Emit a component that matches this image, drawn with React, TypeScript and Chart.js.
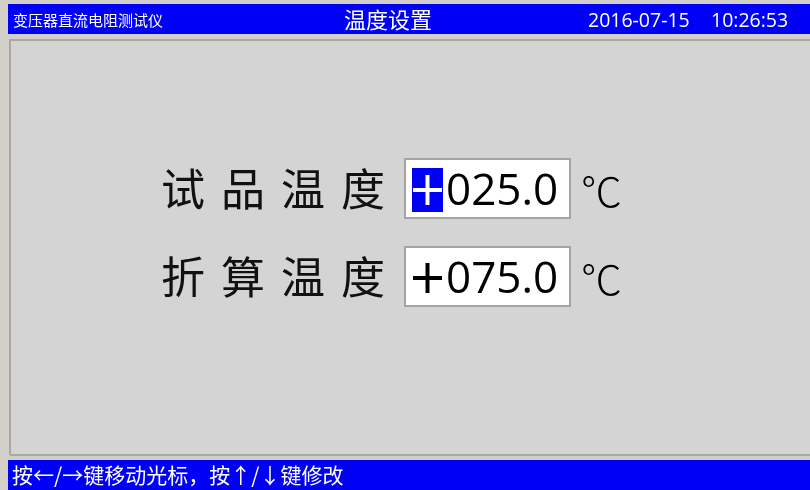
import React, { useEffect, useRef } from 'react';
import { Chart, registerables } from 'chart.js';
Chart.register(...registerables);

const deviceName = '变压器直流电阻测试仪';
const screenTitle = '温度设置';
const dateText = '2016-07-15';
const timeText = '10:26:53';
const fieldLabels = ['试品温度', '折算温度'];
const fieldSigns = ['+', '+'];
const fieldValues = [25.0, 75.0];
const unitText = '℃';
const hintText = '按←/→键移动光标，按↑/↓键修改';
const cursorField = 0;

const BLUE = '#0000f6';
const CJK = '"Noto Sans CJK SC", "Noto Sans", sans-serif';
const LAT = '"Open Sans", "Noto Sans", sans-serif';

const fmt = (v: number) => v.toFixed(1).padStart(5, '0');

const uiPlugin = {
  id: 'deviceScreen',
  beforeDraw(chart: any) {
    const ctx: CanvasRenderingContext2D = chart.ctx;
    const W = chart.width;
    const H = chart.height;
    ctx.save();
    ctx.fillStyle = '#d2d0c8';
    ctx.fillRect(0, 0, W, H);
    ctx.fillStyle = BLUE;
    ctx.fillRect(8, 4, W - 8, 30);
    ctx.fillStyle = '#d4d4d4';
    ctx.fillRect(9, 39, W - 9, 416);
    ctx.strokeStyle = '#a9a9a2';
    ctx.lineWidth = 2;
    ctx.beginPath();
    ctx.moveTo(10, 455);
    ctx.lineTo(10, 40);
    ctx.lineTo(W, 40);
    ctx.stroke();
    ctx.beginPath();
    ctx.moveTo(10, 455);
    ctx.lineTo(W, 455);
    ctx.stroke();
    ctx.fillStyle = BLUE;
    ctx.fillRect(8, 460, W - 8, 30);

    ctx.fillStyle = '#ffffff';
    ctx.textBaseline = 'middle';
    ctx.textAlign = 'left';
    ctx.font = `15px ${CJK}`;
    ctx.fillText(deviceName, 13, 20);
    ctx.textAlign = 'center';
    ctx.font = `22px ${CJK}`;
    ctx.fillText(screenTitle, 388, 20);
    ctx.textAlign = 'left';
    ctx.font = `19.5px ${LAT}`;
    ctx.fillText(dateText, 588, 21);
    ctx.fillText(timeText, 711, 21);

    ctx.font = `21px ${CJK}`;
    ctx.fillText(hintText, 12, 475);

    const rowY = [189, 277];
    fieldLabels.forEach((lab, i) => {
      const cy = rowY[i];
      ctx.fillStyle = '#111111';
      ctx.font = `400 44px ${CJK}`;
      ctx.textAlign = 'center';
      Array.from(lab).forEach((ch, k) => {
        ctx.fillText(ch, 183 + k * 60, cy);
      });
      ctx.fillStyle = '#ffffff';
      ctx.fillRect(405, cy - 30, 165, 59);
      ctx.strokeStyle = '#a4a4a4';
      ctx.lineWidth = 2;
      ctx.strokeRect(405, cy - 30, 165, 59);
      const sx = 412, sw = 31, sy = cy - 21, sh = 44;
      if (i === cursorField) {
        ctx.fillStyle = BLUE;
        ctx.fillRect(sx, sy, sw, sh);
        ctx.fillStyle = '#ffffff';
      } else {
        ctx.fillStyle = '#000000';
      }
      ctx.fillRect(sx + 1, cy - 1, sw - 2, 4);
      if (fieldSigns[i] === '+') {
        ctx.fillRect(sx + sw / 2 - 2, sy + 7, 4, sh - 14);
      }
      ctx.fillStyle = '#000000';
      ctx.textAlign = 'left';
      ctx.font = `44px ${LAT}`;
      ctx.fillText(fmt(fieldValues[i]), 446, cy + 3);
      ctx.font = `300 41px ${CJK}`;
      ctx.fillText(unitText, 581, cy + 2);
    });
    ctx.restore();
  },
};

export default function App() {
  const ref = useRef<HTMLCanvasElement | null>(null);
  useEffect(() => {
    document.body.style.margin = '0';
    const c = ref.current;
    if (!c) return;
    const chart = new Chart(c, {
      type: 'bar',
      data: { labels: fieldLabels, datasets: [] },
      options: {
        responsive: false,
        animation: false,
        events: [],
        layout: { padding: 0 },
        plugins: { legend: { display: false }, tooltip: { enabled: false }, title: { display: false } },
        scales: { x: { display: false }, y: { display: false } },
      },
      plugins: [uiPlugin],
    });
    return () => chart.destroy();
  }, []);
  return (
    <div style={{ position: 'fixed', left: 0, top: 0, width: 810, height: 490 }}>
      <canvas ref={ref} width={810} height={490} style={{ width: 810, height: 490, display: 'block' }} />
    </div>
  );
}
